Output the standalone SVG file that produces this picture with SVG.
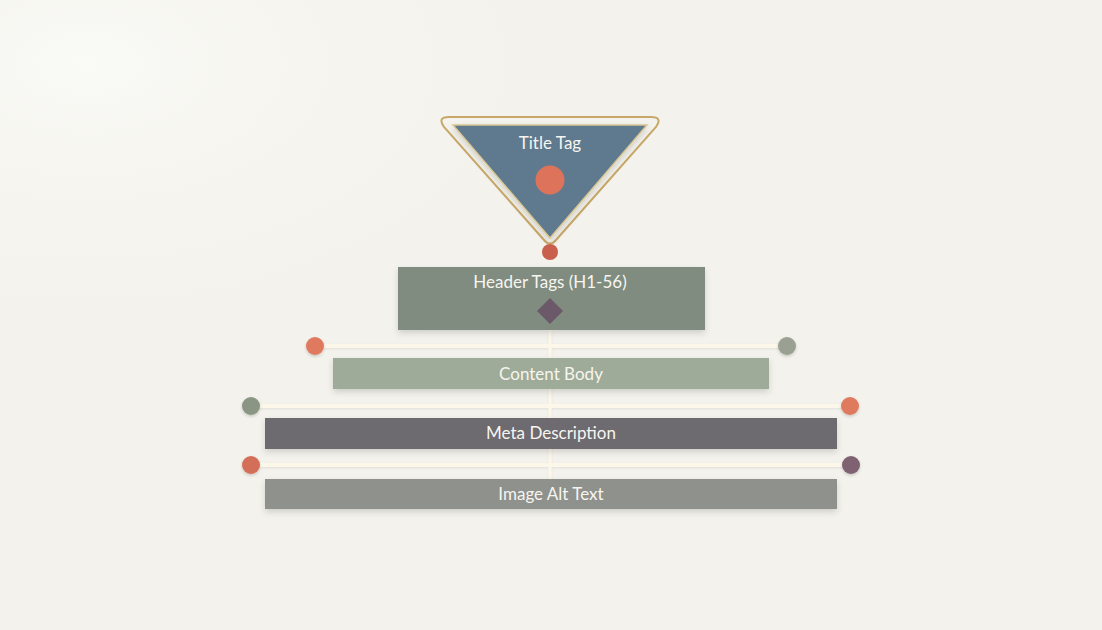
<svg xmlns="http://www.w3.org/2000/svg" width="1102" height="630" viewBox="0 0 1102 630">
<defs>
<radialGradient id="glow" cx="0.08" cy="0.1" r="0.55">
<stop offset="0" stop-color="#fafaf6"/>
<stop offset="1" stop-color="#f3f2ec" stop-opacity="0"/>
</radialGradient>
<filter id="sh" x="-10%" y="-30%" width="120%" height="170%">
<feDropShadow dx="0" dy="3" stdDeviation="3" flood-color="#000" flood-opacity="0.15"/>
</filter>
<filter id="dsh" x="-50%" y="-50%" width="200%" height="200%">
<feDropShadow dx="0" dy="1.5" stdDeviation="1.5" flood-color="#000" flood-opacity="0.18"/>
</filter>
<filter id="lsh" x="-5%" y="-200%" width="110%" height="500%">
<feDropShadow dx="0" dy="1" stdDeviation="1" flood-color="#000" flood-opacity="0.08"/>
</filter>
</defs>
<style>
.lbl{font-family:Lato,"Open Sans","Liberation Sans",sans-serif;font-size:17px;fill:#f7f5ef;text-anchor:middle;dominant-baseline:central}
.conn{stroke:#fcf7e9;stroke-width:4;fill:none}
.vconn{stroke:#fcf7e9;stroke-width:3;fill:none}
</style>
<rect width="1102" height="630" fill="#f3f2ec"/>
<rect width="1102" height="630" fill="url(#glow)"/>
<g id="connectors">
<g filter="url(#lsh)">
<line class="vconn" x1="550" y1="330" x2="550" y2="479"/>
<line class="conn" x1="315" y1="346" x2="787" y2="346"/>
<line class="conn" x1="251" y1="406" x2="850" y2="406"/>
<line class="conn" x1="251" y1="465" x2="851" y2="465"/>
</g>
<circle cx="315" cy="346" r="9" fill="#e07a5f" filter="url(#dsh)"/>
<circle cx="787" cy="346" r="9" fill="#9aa092" filter="url(#dsh)"/>
<circle cx="251" cy="406" r="9" fill="#8a9583" filter="url(#dsh)"/>
<circle cx="850" cy="406" r="9" fill="#e07a5f" filter="url(#dsh)"/>
<circle cx="251" cy="465" r="9" fill="#d36e58" filter="url(#dsh)"/>
<circle cx="851" cy="465" r="9" fill="#7e6272" filter="url(#dsh)"/>
</g>
<g id="title-tag">
<path d="M449,117 L651,117 Q663,117 656,127 L556,240 Q550,247 544,240 L444,127 Q437,117 449,117 Z" fill="none" stroke="#c8a868" stroke-width="2"/>
<polygon points="453,125 647,125 550,238" fill="#5f7a8e" stroke="#d9c794" stroke-width="1.5" filter="url(#sh)"/>
<text class="lbl" x="550" y="142">Title Tag</text>
<circle cx="550" cy="180" r="14.5" fill="#dc735a"/>
<circle cx="550" cy="252" r="8" fill="#c9604d"/>
</g>
<g id="header-tags">
<rect x="398" y="267" width="307" height="63" fill="#7f8c7f" filter="url(#sh)"/>
<text class="lbl" x="550" y="281">Header Tags (H1-56)</text>
<polygon points="550,298 563,311 550,324 537,311" fill="#6b5869"/>
</g>
<g id="content-body">
<rect x="333" y="358" width="436" height="31" fill="#9eab98" filter="url(#sh)"/>
<text class="lbl" x="551" y="373">Content Body</text>
</g>
<g id="meta-description">
<rect x="265" y="418" width="572" height="31" fill="#6d6b70" filter="url(#sh)"/>
<text class="lbl" x="551" y="432">Meta Description</text>
</g>
<g id="image-alt-text">
<rect x="265" y="479" width="572" height="30" fill="#8e918c" filter="url(#sh)"/>
<text class="lbl" x="551" y="493">Image Alt Text</text>
</g>
</svg>
